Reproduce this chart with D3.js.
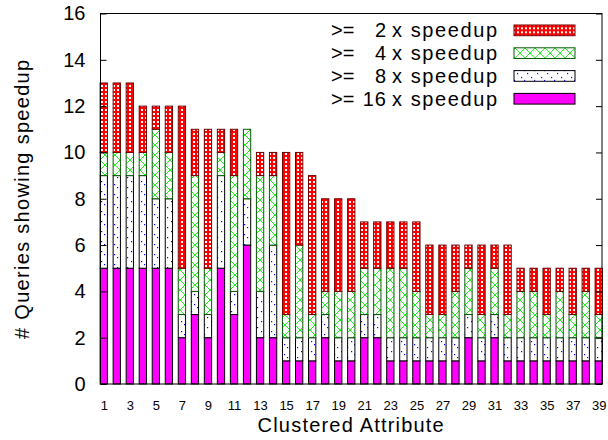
<!DOCTYPE html>
<html lang="en">
<head>
	<meta charset="UTF-8">
	<title>Clustered Attribute speedup</title>
	<script src="https://cdn.jsdelivr.net/npm/d3@7/dist/d3.min.js"></script>
	<style>
		body{margin:0;background:#fff;}
		text{font-family:"Liberation Sans",Arial,sans-serif;fill:#000;}
	</style>
</head>
<body>
</body>
<script type="text/javascript">
// data: number of queries in each band, stacked bottom to top
var attrs = d3.range(1,40);
var s16 = [5,5,5,5,5,5,2,3,2,5,3,6,2,2,1,1,1,2,1,1,2,2,1,1,1,1,1,1,2,1,2,1,1,1,1,1,1,1,1];
var s8  = [4,4,4,4,3,3,1,1,1,4,1,2,2,4,1,1,1,1,1,1,1,1,1,1,1,1,1,1,1,1,1,1,1,1,1,1,1,1,1];
var s4  = [1,1,1,1,3,2,2,5,2,1,5,3,5,3,1,4,1,1,2,2,2,2,3,3,2,1,1,2,2,1,2,1,2,2,1,2,1,2,1];
var s2  = [3,3,3,2,1,2,7,2,6,1,2,0,1,1,7,4,6,4,4,4,2,2,2,2,3,3,3,2,1,3,1,3,1,1,2,1,2,1,2];
var yTicks = [0,2,4,6,8,10,12,14,16];
var xTickLabels = attrs.filter(function(d){return d%2==1;});
var legendLabels = ["2","4","8","16"];

var width = 608, height = 440;
var plot = {left:100.5, right:602, top:13.5, bottom:384};

var svg = d3.select("body").append("svg").attr("width",width).attr("height",height);

// fill patterns
var defs = svg.append("defs");
var pr = defs.append("pattern").attr("id","pRed").attr("patternUnits","userSpaceOnUse").attr("width",4).attr("height",4);
pr.append("rect").attr("width",4).attr("height",4).attr("fill","#ff0000");
pr.append("rect").attr("x",1).attr("y",1).attr("width",2).attr("height",2).attr("fill","#fff");
var pg = defs.append("pattern").attr("id","pGreen").attr("patternUnits","userSpaceOnUse").attr("width",10).attr("height",10);
pg.append("rect").attr("width",10).attr("height",10).attr("fill","#fff");
pg.append("path").attr("d","M0,0L10,10M10,0L0,10").attr("stroke","#00f000").attr("stroke-width",0.9);
var pb = defs.append("pattern").attr("id","pBlue").attr("patternUnits","userSpaceOnUse").attr("width",10).attr("height",10);
pb.append("rect").attr("width",10).attr("height",10).attr("fill","#fff");
[[1,1],[4,4],[7,7]].forEach(function(p){
	pb.append("rect").attr("x",p[0]).attr("y",p[1]).attr("width",1.2).attr("height",1.2).attr("fill","#0000ff");
});

var fills = ["#ff00ff","url(#pBlue)","url(#pGreen)","url(#pRed)"];
var strokes = ["#000","#000","#0a5a0a","#700000"];

var xScale = d3.scaleLinear().domain([0.75,39.25]).range([plot.left,plot.right]);
var yScale = d3.scaleLinear().domain([0,16]).range([plot.bottom,plot.top]);
var barW = xScale(1.56) - xScale(1);

var rows = attrs.map(function(a,i){
	return {attr:a, s16:s16[i], s8:s8[i], s4:s4[i], s2:s2[i]};
});
var stack = d3.stack().keys(["s16","s8","s4","s2"]);
var layers = stack(rows);

svg.selectAll("g.layer").data(layers).enter().append("g").attr("class","layer")
	.attr("fill",function(d,i){return fills[i];})
	.attr("stroke",function(d,i){return strokes[i];})
	.selectAll("rect").data(function(d){return d.filter(function(p){return p[1]>p[0];});})
	.enter().append("rect")
	.attr("x",function(d){return xScale(d.data.attr) - barW/2;})
	.attr("y",function(d){return yScale(d[1]);})
	.attr("width",barW)
	.attr("height",function(d){return yScale(d[0]) - yScale(d[1]);});

// border box
svg.append("rect").attr("x",plot.left).attr("y",plot.top)
	.attr("width",plot.right-plot.left).attr("height",plot.bottom-plot.top)
	.attr("fill","none").attr("stroke","#000");

// y axis, ticks inside, mirrored on right
var yAxis = d3.axisLeft(yScale).tickValues(yTicks).tickSizeInner(-6).tickSizeOuter(0).tickPadding(15);
var gy = svg.append("g").attr("transform","translate("+plot.left+",0)").call(yAxis);
gy.select(".domain").remove();
gy.selectAll("text").attr("font-size","20px").style("font-family","Liberation Sans, Arial, sans-serif");
var yAxisR = d3.axisRight(yScale).tickValues(yTicks).tickSizeInner(-6).tickSizeOuter(0).tickFormat("");
var gyr = svg.append("g").attr("transform","translate("+plot.right+",0)").call(yAxisR);
gyr.select(".domain").remove();

// x axis labels only
var xAxis = d3.axisBottom(xScale).tickValues(xTickLabels).tickSize(0).tickPadding(17);
var gx = svg.append("g").attr("transform","translate(0,"+plot.bottom+")").call(xAxis);
gx.select(".domain").remove();
gx.selectAll("text").attr("font-size","13px").style("font-family","Liberation Sans, Arial, sans-serif");

// axis titles
svg.append("text").attr("x",(plot.left+plot.right)/2).attr("y",432)
	.attr("text-anchor","middle").attr("font-size","20px").attr("letter-spacing","1.2px")
	.text("Clustered Attribute");
svg.append("text").attr("transform","translate(29,"+((plot.top+plot.bottom)/2)+") rotate(-90)")
	.attr("text-anchor","middle").attr("font-size","20px").attr("letter-spacing","1.3px")
	.text("# Queries showing speedup");

// legend
var legFills = ["url(#pRed)","url(#pGreen)","url(#pBlue)","#ff00ff"];
var legStrokes = ["#700000","#0a5a0a","#000","#000"];
var leg = svg.selectAll("g.leg").data(legendLabels).enter().append("g").attr("class","leg")
	.attr("transform",function(d,i){return "translate(0,"+(30.3+i*22.8)+")";});
leg.append("text").attr("x",331).attr("y",6.8).attr("font-size","20px").text(">=");
leg.append("text").attr("x",387).attr("y",6.8).attr("font-size","20px").attr("text-anchor","end")
	.attr("letter-spacing","1px").text(function(d){return d;});
leg.append("text").attr("x",392).attr("y",6.8).attr("font-size","20px").attr("letter-spacing","1.6px")
	.text("x speedup");
leg.append("rect").attr("x",514).attr("y",-5.3).attr("width",61).attr("height",10.7)
	.attr("fill",function(d,i){return legFills[i];})
	.attr("stroke",function(d,i){return legStrokes[i];});
</script>
</html>
